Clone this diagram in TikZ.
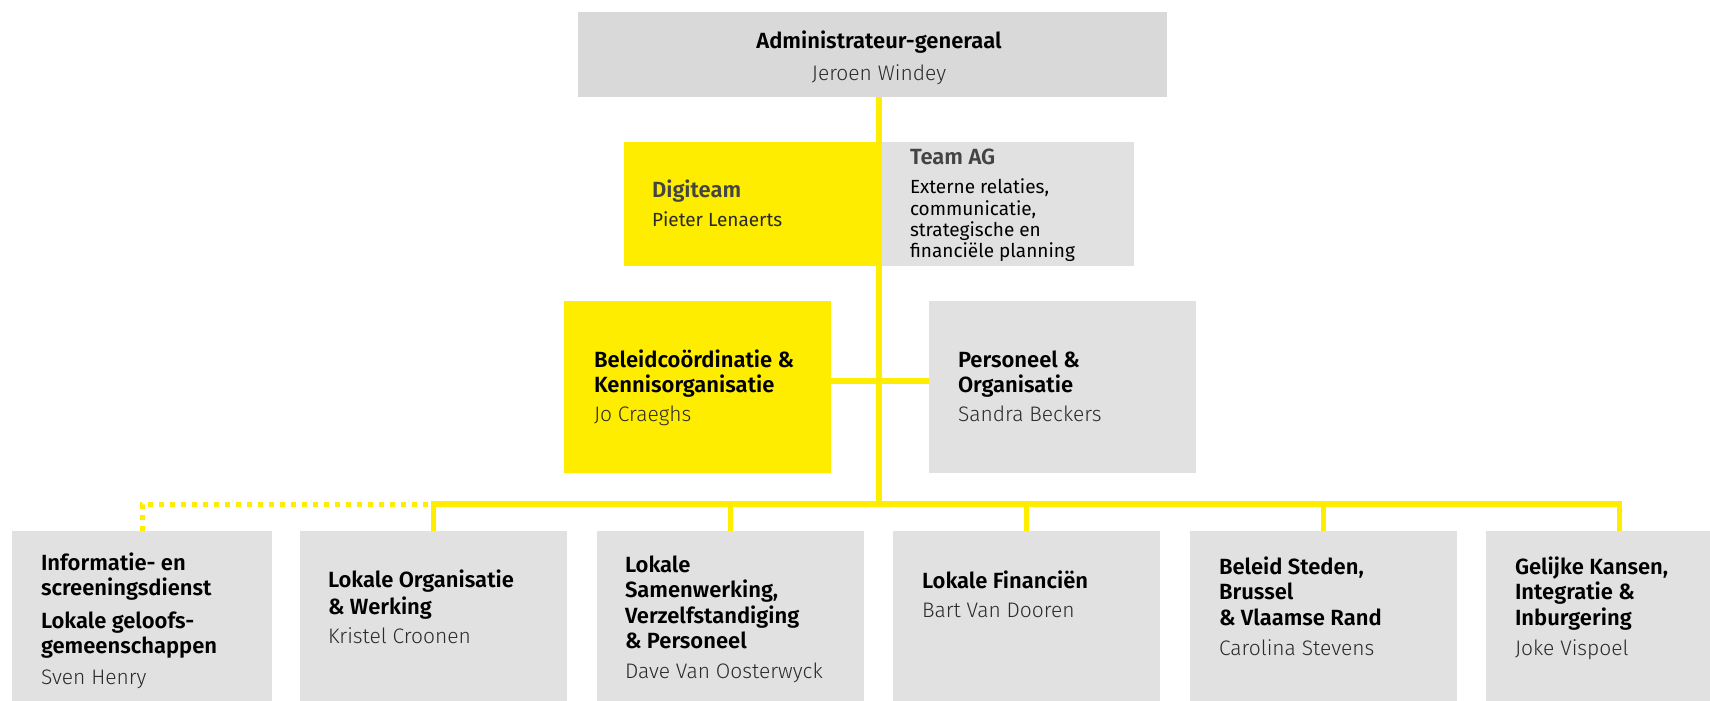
\documentclass[tikz,border=0pt]{standalone}
\usepackage{fontspec}
\setmainfont{Fira Sans}[BoldFont={Fira Sans SemiBold}]
\newfontfamily\lightf{Fira Sans Light}
\definecolor{ylw}{HTML}{FFED00}
\definecolor{gtop}{HTML}{D9D9D9}
\definecolor{gbx}{HTML}{E1E1E1}
\definecolor{dgr}{HTML}{444444}
\definecolor{nmc}{HTML}{2A2A2A}
\newcommand\hdf{\fontsize{11}{12.75}\selectfont\bfseries}
\newcommand\nmf{\lightf\mdseries\fontsize{10.5}{14.5}\selectfont\color{nmc}}
\newcommand\smf{\mdseries\fontsize{9.5}{10.65}\selectfont}
\begin{document}
\begin{tikzpicture}[x=0.5pt,y=-0.5pt,
  boxbase/.style={draw=none, inner sep=0pt, outer sep=0pt, anchor=north west},
  gbox/.style={boxbase, fill=gbx},
  ybox/.style={boxbase, fill=ylw},
  conn/.style={draw=ylw, line width=2.75pt},
  dotconn/.style={draw=ylw, line width=2.5pt, dash pattern=on 2.5pt off 3pt},
  txt/.style={anchor=base west, inner sep=0pt, outer sep=0pt},
  ctxt/.style={anchor=base, inner sep=0pt, outer sep=0pt}]
\clip (0,0) rectangle (1710,701);
% boxes
\node[gbox, fill=gtop, minimum width=294.5pt, minimum height=42.5pt] (ag) at (578,12) {};
\node[ybox, minimum width=127.5pt, minimum height=62pt] (digi) at (624,142) {};
\node[gbox, minimum width=127.5pt, minimum height=62pt] (team) at (879,142) {};
\node[ybox, minimum width=133.5pt, minimum height=86pt] (bel) at (564,301) {};
\node[gbox, minimum width=133.5pt, minimum height=86pt] (pers) at (929,301) {};
\node[gbox, minimum width=130pt, minimum height=90pt] (b1) at (12,531) {};
\node[gbox, minimum width=133.5pt, minimum height=90pt] (b2) at (300,531) {};
\node[gbox, minimum width=133.5pt, minimum height=90pt] (b3) at (597,531) {};
\node[gbox, minimum width=133.5pt, minimum height=90pt] (b4) at (893,531) {};
\node[gbox, minimum width=133.5pt, minimum height=90pt] (b5) at (1190,531) {};
\node[gbox, minimum width=133.5pt, minimum height=90pt] (b6) at (1486,531) {};
% connectors
\coordinate (bus) at (879,504);
\draw[conn] (ag.south -| bus) -- (bus);
\draw[conn] ([yshift=3pt]bel.east) -- ([yshift=3pt]pers.west);
\draw[conn] (b2.north) -- (b2.north |- bus) -- (b6.north |- bus) -- (b6.north);
\foreach \b in {b3,b4,b5} \draw[conn] (\b.north) -- (\b.north |- bus);
\draw[dotconn] (b1.north) -- (b1.north |- bus) -- (b2.north |- bus);
% texts
\node[ctxt] (agt) at (879,49) {\hdf Administrateur-generaal};
\node[ctxt] (agn) at (879,81) {\nmf Jeroen Windey};
\node[txt] (digit) at (652,198) {\parbox[t]{110pt}{\hdf\leavevmode\color{dgr}Digiteam\par\mdseries\fontsize{9.5}{14.5}\selectfont\color{nmc}Pieter Lenaerts}};
\node[txt] (teamt) at (910,165) {\hdf\color{dgr}Team AG};
\node[txt] (teamd) at (910,194) {\parbox[t]{115pt}{\smf Externe relaties,\\communicatie,\\strategische en\\financiële planning}};
\node[txt] (belt) at (594,367) {\parbox[t]{125pt}{\hdf Beleidcoördinatie \&\\Kennisorganisatie\par\nmf Jo Craeghs}};
\node[txt] (perst) at (958,367) {\parbox[t]{120pt}{\hdf Personeel \&\\Organisatie\par\nmf Sandra Beckers}};
\node[txt] (t1) at (41,570) {\parbox[t]{120pt}{\hdf Informatie- en\\screeningsdienst\\[3.5pt]Lokale geloofs-\\gemeenschappen\par\fontsize{10.5}{15}\selectfont\nmf\fontsize{10.5}{15.5}\selectfont Sven Henry}};
\node[txt] (t2) at (328,587) {\parbox[t]{120pt}{\hdf Lokale Organisatie\\[0.75pt]\& Werking\par\nmf Kristel Croonen}};
\node[txt] (t3) at (625,572) {\parbox[t]{120pt}{\hdf Lokale\\Samenwerking,\\Verzelfstandiging\\\& Personeel\par\nmf\fontsize{10.5}{15}\selectfont Dave Van Oosterwyck}};
\node[txt] (t4) at (922,588) {\parbox[t]{120pt}{\hdf Lokale Financiën\par\nmf Bart Van Dooren}};
\node[txt] (t5) at (1219,574) {\parbox[t]{120pt}{\hdf Beleid Steden,\\Brussel\\\& Vlaamse Rand\par\nmf\fontsize{10.5}{15}\selectfont Carolina Stevens}};
\node[txt] (t6) at (1515,574) {\parbox[t]{120pt}{\hdf Gelijke Kansen,\\Integratie \&\\Inburgering\par\nmf\fontsize{10.5}{15}\selectfont Joke Vispoel}};
\end{tikzpicture}
\end{document}
